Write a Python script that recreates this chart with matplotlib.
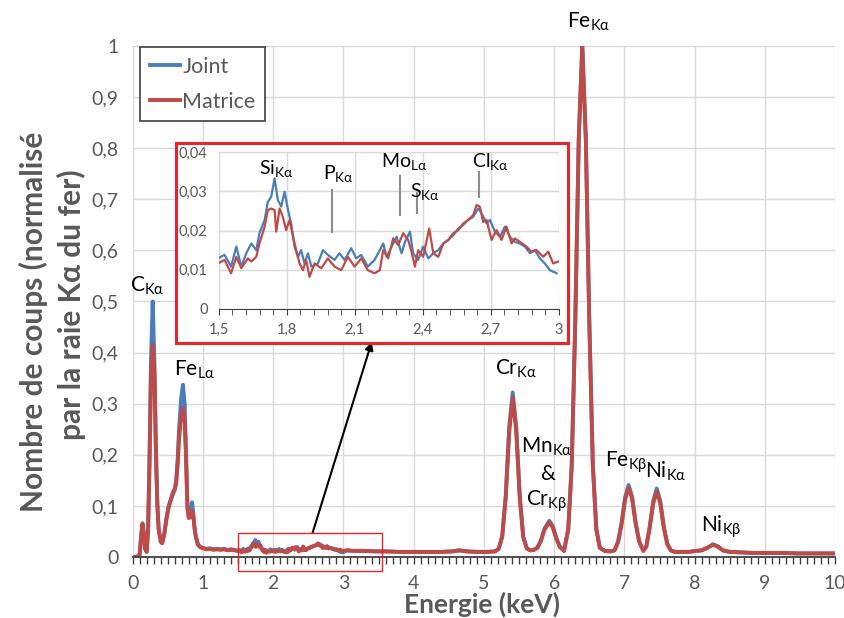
import numpy as np
import matplotlib.pyplot as plt
from matplotlib.patches import Rectangle
from matplotlib.ticker import MultipleLocator, FuncFormatter

plt.rcParams['font.family'] = ['Lato', 'DejaVu Sans']
plt.rcParams['mathtext.default'] = 'regular'

## DATA

# low energy part of the spectrum (keV, normalised counts)
low_E = [0.00, 0.06, 0.10, 0.12, 0.14, 0.16, 0.18, 0.20, 0.22, 0.24, 0.26, 0.285, 0.31, 0.33, 0.35,
         0.37, 0.40, 0.42, 0.45, 0.48, 0.51, 0.54, 0.57, 0.60, 0.62, 0.64, 0.66, 0.69, 0.715, 0.74,
         0.76, 0.78, 0.80, 0.82, 0.845, 0.86, 0.88, 0.90, 0.93, 0.96, 1.00, 1.05, 1.10, 1.15, 1.20,
         1.25, 1.30, 1.35, 1.40, 1.45]
low_joint = [0.0, 0.0, 0.005, 0.04, 0.066, 0.045, 0.015, 0.01, 0.06, 0.20, 0.38, 0.50, 0.38, 0.22, 0.11,
             0.055, 0.03, 0.027, 0.045, 0.075, 0.098, 0.112, 0.125, 0.135, 0.15, 0.19, 0.25, 0.31, 0.337, 0.30,
             0.20, 0.10, 0.078, 0.082, 0.107, 0.09, 0.06, 0.04, 0.025, 0.02, 0.018, 0.016, 0.017, 0.015, 0.016,
             0.015, 0.016, 0.014, 0.015, 0.014]
low_mat = [0.0, 0.0, 0.005, 0.04, 0.065, 0.045, 0.015, 0.01, 0.055, 0.18, 0.34, 0.415, 0.36, 0.21, 0.105,
           0.053, 0.03, 0.027, 0.045, 0.073, 0.096, 0.11, 0.122, 0.132, 0.145, 0.18, 0.23, 0.275, 0.292, 0.27,
           0.19, 0.095, 0.076, 0.078, 0.09, 0.082, 0.056, 0.038, 0.024, 0.019, 0.017, 0.015, 0.016, 0.014, 0.015,
           0.014, 0.015, 0.013, 0.014, 0.013]

# 1.5 - 3 keV zone (zoomed in the inset)
zoom_E_joint = [1.496, 1.525, 1.554, 1.577, 1.599, 1.621, 1.643, 1.665, 1.679, 1.702, 1.716, 1.731, 1.746,
                1.760, 1.775, 1.790, 1.805, 1.819, 1.834, 1.849, 1.863, 1.878, 1.893, 1.908, 1.937, 1.959,
                1.981, 2.010, 2.032, 2.055, 2.084, 2.106, 2.128, 2.157, 2.187, 2.210, 2.225, 2.240, 2.262,
                2.284, 2.306, 2.321, 2.343, 2.357, 2.379, 2.401, 2.424, 2.446, 2.468, 2.490, 2.512, 2.534,
                2.556, 2.578, 2.600, 2.622, 2.644, 2.659, 2.681, 2.696, 2.718, 2.740, 2.762, 2.784, 2.806,
                2.828, 2.850, 2.872, 2.894, 2.916, 2.938, 2.960, 2.990]
zoom_joint = [0.0129, 0.0138, 0.0108, 0.0159, 0.0108, 0.0142, 0.0167, 0.0150, 0.0193, 0.0227, 0.0273, 0.0286,
              0.0333, 0.0278, 0.0261, 0.0299, 0.0252, 0.0218, 0.0159, 0.0133, 0.0150, 0.0116, 0.0142, 0.0108,
              0.0116, 0.0150, 0.0138, 0.0125, 0.0142, 0.0125, 0.0155, 0.0129, 0.0138, 0.0108, 0.0125, 0.0150,
              0.0167, 0.0133, 0.0159, 0.0184, 0.0142, 0.0171, 0.0197, 0.0142, 0.0125, 0.0159, 0.0129, 0.0142,
              0.0150, 0.0167, 0.0176, 0.0188, 0.0205, 0.0214, 0.0227, 0.0235, 0.0256, 0.0244, 0.0218, 0.0227,
              0.0197, 0.0184, 0.0210, 0.0184, 0.0171, 0.0167, 0.0159, 0.0142, 0.0150, 0.0129, 0.0116, 0.0099,
              0.0091]
zoom_E_mat = [1.496, 1.525, 1.554, 1.577, 1.599, 1.628, 1.643, 1.665, 1.679, 1.702, 1.716, 1.731, 1.746,
              1.753, 1.768, 1.782, 1.797, 1.812, 1.827, 1.841, 1.856, 1.871, 1.885, 1.900, 1.922, 1.952,
              1.981, 2.010, 2.040, 2.069, 2.099, 2.128, 2.157, 2.187, 2.210, 2.225, 2.247, 2.269, 2.291,
              2.313, 2.335, 2.350, 2.365, 2.379, 2.401, 2.428, 2.446, 2.468, 2.490, 2.512, 2.534, 2.556,
              2.578, 2.600, 2.622, 2.637, 2.651, 2.666, 2.681, 2.703, 2.725, 2.747, 2.769, 2.791, 2.806,
              2.828, 2.857, 2.879, 2.901, 2.931, 2.953, 2.975, 2.997]
zoom_mat = [0.0116, 0.0125, 0.0091, 0.0133, 0.0104, 0.0129, 0.0121, 0.0133, 0.0167, 0.0210, 0.0252, 0.0256,
            0.0252, 0.0197, 0.0256, 0.0235, 0.0201, 0.0227, 0.0184, 0.0150, 0.0116, 0.0099, 0.0125, 0.0082,
            0.0116, 0.0104, 0.0129, 0.0108, 0.0099, 0.0133, 0.0108, 0.0129, 0.0099, 0.0091, 0.0099, 0.0150,
            0.0129, 0.0180, 0.0163, 0.0193, 0.0176, 0.0146, 0.0108, 0.0150, 0.0133, 0.0205, 0.0142, 0.0133,
            0.0167, 0.0176, 0.0193, 0.0201, 0.0218, 0.0227, 0.0239, 0.0265, 0.0261, 0.0222, 0.0227, 0.0176,
            0.0201, 0.0176, 0.0210, 0.0167, 0.0180, 0.0171, 0.0159, 0.0146, 0.0150, 0.0133, 0.0146, 0.0116,
            0.0121]

# high energy part of the spectrum
high_E = [3.05, 3.15, 3.3, 3.45, 3.6, 3.8, 4.0, 4.2, 4.4, 4.55,
          4.65, 4.75, 4.9, 5.05, 5.16, 5.21, 5.26, 5.31, 5.36, 5.41,
          5.46, 5.51, 5.56, 5.61, 5.66, 5.71, 5.76, 5.81, 5.86, 5.93,
          5.98, 6.03, 6.08, 6.14, 6.20, 6.25, 6.30, 6.35, 6.40, 6.45,
          6.50, 6.55, 6.60, 6.65, 6.72, 6.80, 6.86, 6.91, 6.96, 7.01,
          7.06, 7.11, 7.16, 7.21, 7.27, 7.31, 7.36, 7.41, 7.46, 7.51,
          7.56, 7.61, 7.66, 7.72, 7.82, 7.92, 8.02, 8.10, 8.18, 8.26,
          8.33, 8.40, 8.50, 8.65, 8.85, 9.05, 9.25, 9.45, 9.65, 9.85, 10.0]
high_joint = [0.013, 0.012, 0.012, 0.011, 0.011, 0.010, 0.010, 0.010, 0.010, 0.011,
              0.013, 0.011, 0.010, 0.010, 0.011, 0.016, 0.04, 0.12, 0.255, 0.322,
              0.255, 0.12, 0.04, 0.017, 0.013, 0.014, 0.018, 0.032, 0.055, 0.071,
              0.06, 0.037, 0.02, 0.012, 0.054, 0.18, 0.46, 0.82, 1.0, 0.82,
              0.46, 0.18, 0.054, 0.018, 0.012, 0.011, 0.013, 0.03, 0.067, 0.117,
              0.141, 0.117, 0.067, 0.03, 0.012, 0.02, 0.06, 0.11, 0.134, 0.11,
              0.06, 0.026, 0.013, 0.010, 0.010, 0.010, 0.012, 0.013, 0.018, 0.025,
              0.021, 0.013, 0.010, 0.009, 0.008, 0.008, 0.008, 0.007, 0.007, 0.007, 0.007]
high_mat = [0.013, 0.012, 0.012, 0.011, 0.011, 0.010, 0.010, 0.010, 0.010, 0.011,
            0.013, 0.011, 0.010, 0.010, 0.011, 0.016, 0.04, 0.115, 0.245, 0.312,
            0.245, 0.115, 0.038, 0.017, 0.013, 0.014, 0.018, 0.031, 0.053, 0.068,
            0.058, 0.036, 0.02, 0.012, 0.054, 0.18, 0.46, 0.82, 1.0, 0.82,
            0.46, 0.18, 0.054, 0.018, 0.012, 0.011, 0.013, 0.03, 0.065, 0.113,
            0.136, 0.113, 0.065, 0.03, 0.012, 0.02, 0.057, 0.105, 0.128, 0.105,
            0.057, 0.025, 0.013, 0.010, 0.010, 0.010, 0.012, 0.013, 0.018, 0.024,
            0.020, 0.013, 0.010, 0.009, 0.008, 0.008, 0.008, 0.007, 0.007, 0.007, 0.007]

# peak labels (main plot): text, x, y
main_labels = [(r'C$_{Kα}$', 0.21, 0.53), (r'Fe$_{Lα}$', 0.875, 0.367), (r'Fe$_{Kα}$', 6.49, 1.047),
               (r'Cr$_{Kα}$', 5.45, 0.368), (r'Mn$_{Kα}$', 5.90, 0.215), ('&', 5.90, 0.162),
               (r'Cr$_{Kβ}$', 5.89, 0.11), (r'Fe$_{Kβ}$', 7.02, 0.186), (r'Ni$_{Kα}$', 7.585, 0.168),
               (r'Ni$_{Kβ}$', 8.38, 0.059)]
# peak labels (inset): text, x, y
zoom_labels = [(r'Si$_{Kα}$', 1.754, 0.0359), (r'P$_{Kα}$', 2.029, 0.0345), (r'Mo$_{Lα}$', 2.318, 0.0376),
               (r'S$_{Kα}$', 2.411, 0.030), (r'Cl$_{Kα}$', 2.696, 0.0376)]
# marker lines in the inset: x, y0, y1
zoom_marks = [(2.0, 0.0196, 0.0303), (2.30, 0.024, 0.034), (2.374, 0.0245, 0.0296), (2.647, 0.0285, 0.035)]

BLUE = '#4a7ebb'
RED = '#be4b48'
GREY = '#595959'

E_joint = np.concatenate([low_E, zoom_E_joint, high_E])
y_joint = np.concatenate([low_joint, zoom_joint, high_joint])
E_mat = np.concatenate([low_E, zoom_E_mat, high_E])
y_mat = np.concatenate([low_mat, zoom_mat, high_mat])

comma = FuncFormatter(lambda v, p: ('%g' % v).replace('.', ','))

## MAIN PLOT
fig = plt.figure(figsize=(8.45, 6.18), dpi=100)
ax = fig.add_axes([0.157, 0.0987, 0.8314, 0.8269])

ax.plot(E_joint, y_joint, color=BLUE, lw=2.8, label='Joint', solid_joinstyle='round')
ax.plot(E_mat, y_mat, color=RED, lw=2.8, label='Matrice', solid_joinstyle='round')

ax.set_xlim(0, 10)
ax.set_ylim(0, 1)
ax.xaxis.set_major_locator(MultipleLocator(1))
ax.xaxis.set_minor_locator(MultipleLocator(0.1))
ax.yaxis.set_major_locator(MultipleLocator(0.1))
ax.yaxis.set_major_formatter(comma)
ax.grid(True, which='major', color='#d9d9d9', lw=1)
ax.set_axisbelow(True)
for s in ['top', 'right', 'left']:
    ax.spines[s].set_visible(False)
ax.spines['bottom'].set_color('#404040')
ax.spines['bottom'].set_linewidth(1.3)
ax.tick_params(axis='x', which='both', direction='out', length=5, width=1, color='#404040',
               labelsize=14, labelcolor=GREY, pad=8)
ax.tick_params(axis='y', length=0, labelsize=14, labelcolor=GREY, pad=10)

leg = ax.legend(loc='upper left', bbox_to_anchor=(0.011, 0.998), fontsize=15.5, handlelength=1.4,
                handletextpad=0.1, labelspacing=0.7, borderpad=0.45, fancybox=False, framealpha=1,
                borderaxespad=0)
leg.get_frame().set_edgecolor('#404040')
leg.get_frame().set_linewidth(1.2)
for t in leg.get_texts():
    t.set_color(GREY)

for txt, x, y in main_labels:
    ax.text(x, y, txt, ha='center', va='center', fontsize=15, color='black', clip_on=False)

# zone of the zoom
ax.add_patch(Rectangle((1.5, -0.027), 2.05, 0.074, fill=False, ec='#e8262a', lw=1, clip_on=False, zorder=5))
ax.annotate('', xy=(0.440, 0.447), xycoords='figure fraction', xytext=(2.56, 0.047), textcoords='data',
            arrowprops=dict(arrowstyle='-|>', color='black', lw=1.5, mutation_scale=12, shrinkA=0, shrinkB=0))

fig.text(482 / 845, 1 - 604 / 618, 'Energie (keV)', ha='center', va='center', fontsize=19,
         fontweight='bold', color=GREY)
fig.text(33 / 845, 1 - 322 / 618, 'Nombre de coups (normalisé', ha='center', va='center', rotation=90,
         fontsize=21.5, fontweight='bold', color=GREY)
fig.text(71 / 845, 1 - 305 / 618, 'par la raie Kα du fer)', ha='center', va='center', rotation=90,
         fontsize=21.5, fontweight='bold', color=GREY)

## INSET
frame = Rectangle((0.2083, 0.445), 0.464, 0.3236, transform=fig.transFigure, fc='white',
                  ec='#e8262a', lw=2.2, zorder=2)
fig.add_artist(frame)

ins = fig.add_axes([0.259, 0.5, 0.4024, 0.254])
ins.set_zorder(3)
ins.plot(zoom_E_joint, zoom_joint, color=BLUE, lw=1.6)
ins.plot(zoom_E_mat, zoom_mat, color=RED, lw=1.6)
for x, y0, y1 in zoom_marks:
    ins.plot([x, x], [y0, y1], color='#8c8c8c', lw=1.5)
for txt, x, y in zoom_labels:
    ins.text(x, y, txt, ha='center', va='center', fontsize=14, color='black')

ins.set_xlim(1.5, 3)
ins.set_ylim(0, 0.04)
ins.xaxis.set_major_locator(MultipleLocator(0.3))
ins.xaxis.set_minor_locator(MultipleLocator(0.06))
ins.yaxis.set_major_locator(MultipleLocator(0.01))
ins.xaxis.set_major_formatter(comma)
ins.yaxis.set_major_formatter(comma)
ins.grid(True, which='major', color='#d9d9d9', lw=1)
ins.set_axisbelow(True)
for s in ['top', 'right', 'left']:
    ins.spines[s].set_visible(False)
ins.spines['bottom'].set_color('#404040')
ins.tick_params(axis='x', which='both', direction='out', length=4, color='#404040',
                labelsize=10.5, labelcolor=GREY, pad=6)
ins.tick_params(axis='y', length=0, labelsize=10.5, labelcolor=GREY, pad=8)

fig.savefig('out.png', dpi=100)
